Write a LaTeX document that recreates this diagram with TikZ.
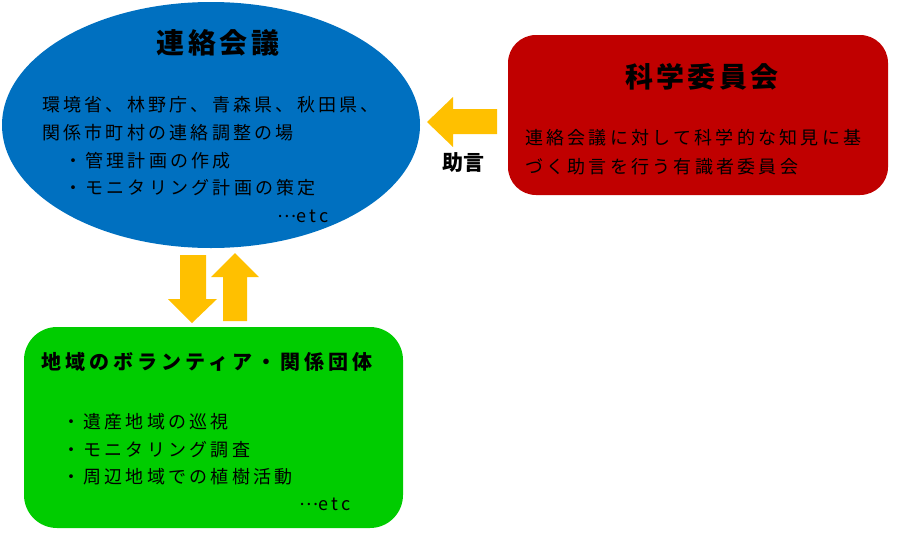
\documentclass[tikz,border=0pt]{standalone}
\usepackage{fontspec}
\usetikzlibrary{shapes.geometric}
\setmainfont{Noto Sans CJK JP}
\newfontfamily\jpbody[LetterSpace=18]{Noto Sans CJK JP}
\newfontfamily\jphead[LetterSpace=12]{Noto Sans CJK JP}
\newfontfamily\jpsub[LetterSpace=20]{Noto Sans CJK JP}
\newcommand\midellip{\raisebox{5pt}{…}}
\definecolor{meetblue}{HTML}{0070C0}
\definecolor{scired}{HTML}{C00000}
\definecolor{localgreen}{HTML}{00CC00}
\definecolor{arrowgold}{HTML}{FFC000}
\tikzset{
	body/.style={anchor=west, inner sep=0pt, font=\jpbody\fontsize{18}{18}\selectfont},
	head/.style={inner sep=0pt, font=\jphead\bfseries\fontsize{28}{28}\selectfont},
	panel/.style={draw=none, inner sep=0pt},
}
\begin{document}
\begin{tikzpicture}[x=1pt, y=-1pt]
		\useasboundingbox (0, 0) rectangle (904, 552);
		% the three bodies
		\node[ellipse, panel, fill=meetblue, minimum width=418pt, minimum height=246pt] (renraku) at (211, 125) {};
		\node[rectangle, panel, fill=scired, rounded corners=28pt, minimum width=380pt, minimum height=160pt] (kagaku) at (698, 115) {};
		\node[rectangle, panel, fill=localgreen, rounded corners=33pt, minimum width=379pt, minimum height=201pt] (chiiki) at (213.5, 427.5) {};
		% block arrows
		\fill[arrowgold] (497, 109) -- (453, 109) -- (453, 97) -- (427, 122) --
			(453, 147) -- (453, 134) -- (497, 134) -- cycle;
		\fill[arrowgold] (180, 255) -- (206, 255) -- (206, 299) -- (217, 299) --
			(192, 323) -- (168, 299) -- (180, 299) -- cycle;
		\fill[arrowgold] (223, 321) -- (247, 321) -- (247, 277) -- (259, 277) --
			(235, 253) -- (211, 277) -- (223, 277) -- cycle;
		\node[inner sep=0pt, font=\bfseries\fontsize{21}{21}\selectfont] (jogen) at (463, 163) {助言};
		% texts
		\node[head] (renrakutitle) at (218, 43) {連絡会議};
		\node[body] (rline1) at (42, 105) {環境省、林野庁、青森県、秋田県、};
		\node[body] (rline2) at (42, 133) {関係市町村の連絡調整の場};
		\node[body] (rline3) at (64, 161) {・管理計画の作成};
		\node[body] (rline4) at (64, 188) {・モニタリング計画の策定};
		\node[body] (retc) at (277, 216) {\midellip etc};
		\node[head] (kagakutitle) at (702, 77) {科学委員会};
		\node[body] (kline1) at (525, 138) {連絡会議に対して科学的な知見に基};
		\node[body] (kline2) at (525, 167) {づく助言を行う有識者委員会};
		\node[inner sep=0pt, anchor=west, font=\jpsub\bfseries\fontsize{20}{20}\selectfont] (chiikititle) at (41, 362) {地域のボランティア・関係団体};
		\node[body] (cline1) at (62, 422) {・遺産地域の巡視};
		\node[body] (cline2) at (62, 450) {・モニタリング調査};
		\node[body] (cline3) at (62, 477) {・周辺地域での植樹活動};
		\node[body] (cetc) at (299, 504) {\midellip etc};
	\end{tikzpicture}
\end{document}
